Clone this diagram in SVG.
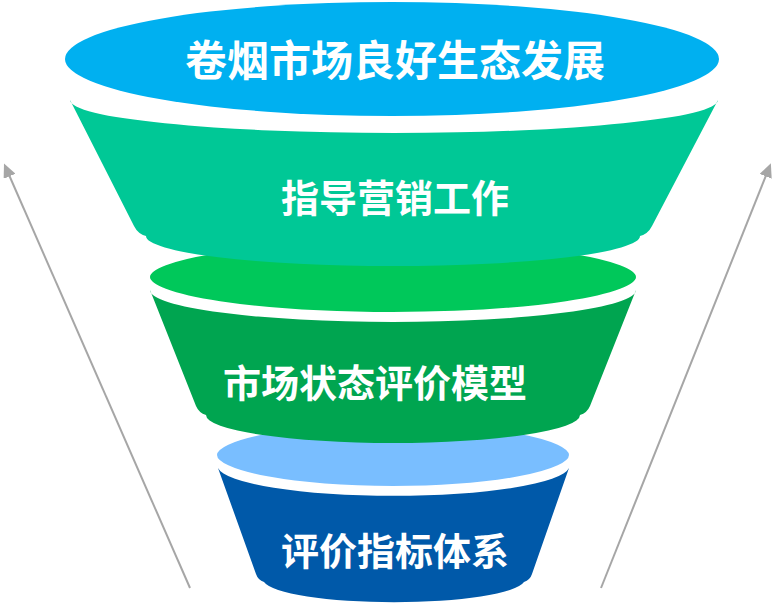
<svg xmlns="http://www.w3.org/2000/svg" width="775" height="607" viewBox="0 0 775 607">
<defs>
<style>
.lbl{font-family:"Noto Sans CJK SC","Noto Sans CJK JP",sans-serif;font-weight:bold;fill:#FFFFFF;text-anchor:middle;dominant-baseline:central}
.arr{stroke:#A6A6A6;stroke-width:2;fill:none}
</style>
<marker id="ah" markerWidth="14" markerHeight="13" refX="9" refY="6.5" orient="auto" markerUnits="userSpaceOnUse" viewBox="0 0 14 13">
<path d="M0,0 L14,6.5 L0,13 Z" fill="#A6A6A6"/>
</marker>
</defs>
<rect width="775" height="607" fill="#FFFFFF"/>
<g id="connectors">
<line class="arr" x1="190" y1="588" x2="6" y2="168" marker-end="url(#ah)"/>
<line class="arr" x1="601" y1="588" x2="769" y2="168" marker-end="url(#ah)"/>
</g>
<g id="tier3">
<path d="M218,468 A176,30 0 0 0 569,468 L532,574 Q530,580 524,582 A131,23 0 0 1 264,582 Q258,580 256,574 Z" fill="#0059A9"/>
<ellipse cx="393" cy="455" rx="178" ry="33" fill="#79BEFF" stroke="#FFFFFF" stroke-width="4"/>
<text class="lbl" x="395" y="548" font-size="38">评价指标体系</text>
</g>
<g id="tier2">
<path d="M150,290 A243,32 0 0 0 636,290 L590,406 Q587,413 580,415 A187,28 0 0 1 206,415 Q199,413 196,406 Z" fill="#00A550"/>
<ellipse cx="393" cy="277" rx="245" ry="37" fill="#00C85A" stroke="#FFFFFF" stroke-width="4"/>
<text class="lbl" x="375" y="380" font-size="38">市场状态评价模型</text>
</g>
<g id="tier1">
<path d="M70,100 A324,33 0 0 0 718,100 L652,226 Q648,234 640,236 A247,30 0 0 1 146,236 Q138,234 134,226 Z" fill="#00C896"/>
<text class="lbl" x="395" y="195" font-size="38">指导营销工作</text>
</g>
<g id="top">
<ellipse cx="392" cy="59" rx="327" ry="57" fill="#00B0F0"/>
<text class="lbl" x="395" y="57" font-size="42">卷烟市场良好生态发展</text>
</g>
</svg>
